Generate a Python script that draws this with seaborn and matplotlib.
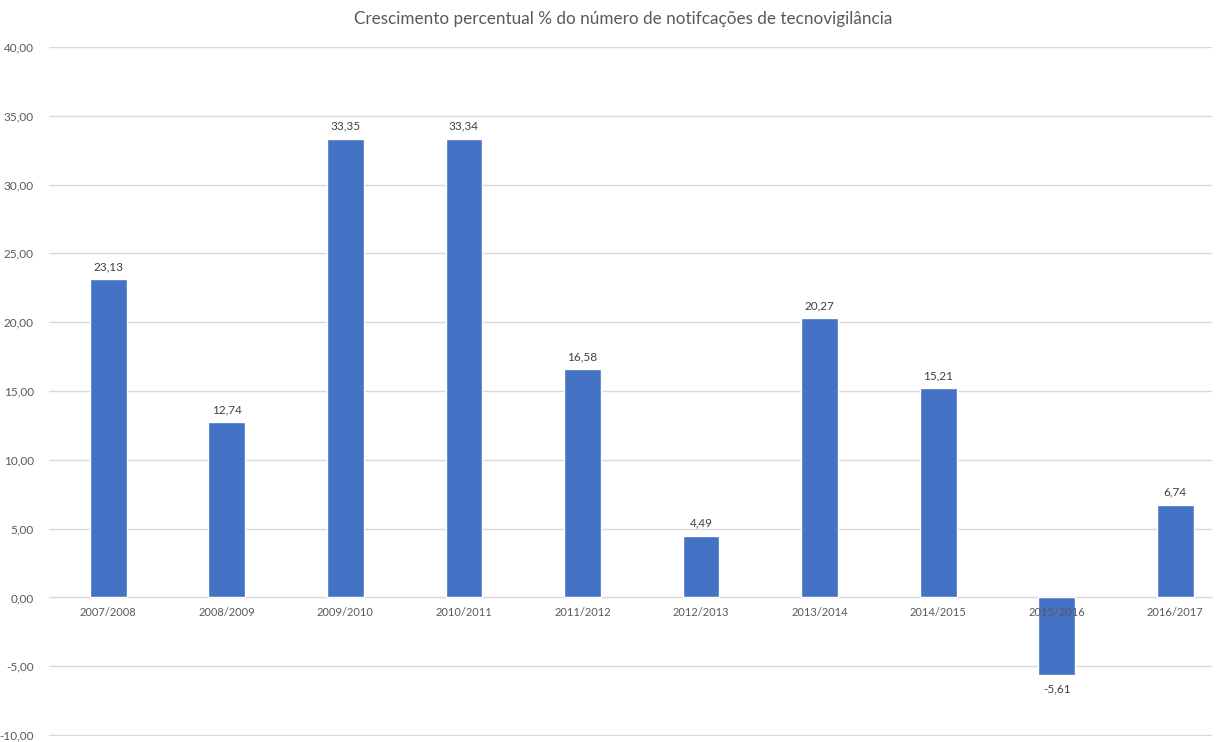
#!/bin/env -S python3

# Crescimento percentual das notificações de tecnovigilância

import pandas as pd
import matplotlib.pyplot as plt
import seaborn as sns
from matplotlib.ticker import FuncFormatter


PERIODS = [ "2007/2008", "2008/2009", "2009/2010", "2010/2011", "2011/2012",
            "2012/2013", "2013/2014", "2014/2015", "2015/2016", "2016/2017" ]
GROWTH = [ 23.13, 12.74, 33.35, 33.34, 16.58, 4.49, 20.27, 15.21, -5.61, 6.74 ]

TITLE = "Crescimento percentual % do número de notifcações de tecnovigilância"
BAR_COLOR = "#4472C4"
TEXT_COLOR = "#595959"


def br(v: float) -> str:
    return f"{v:.2f}".replace(".", ",")


def main() -> None:
    sns.set_style("white")
    plt.rcParams["font.family"] = ["Lato", "DejaVu Sans"]

    df = pd.DataFrame({ "period": PERIODS, "growth": GROWTH })

    fig = plt.figure(figsize=(12.17, 7.42), dpi=100)
    ax = fig.add_axes([49 / 1217, 6 / 742, 1163 / 1217, 689 / 742])

    sns.barplot(data=df, x="period", y="growth", color=BAR_COLOR, saturation=1,
                width=0.31, ax=ax, zorder=3)

    ax.set_ylim(-10.07, 40)
    ax.set_xlim(-0.5, 9.31)
    ax.set_yticks(range(-10, 41, 5))
    ax.yaxis.set_major_formatter(FuncFormatter(lambda v, _: br(v)))
    ax.grid(axis="y", color="#D9D9D9", linewidth=1)

    for side in [ "top", "right", "left" ]:
        ax.spines[side].set_visible(False)
    ax.spines["bottom"].set_position(("data", 0))
    ax.spines["bottom"].set_color("#D9D9D9")
    ax.spines["bottom"].set_zorder(2)

    ax.tick_params(axis="both", length=0, labelcolor=TEXT_COLOR)
    ax.tick_params(axis="x", pad=7, labelsize=8)
    ax.tick_params(axis="y", pad=11, labelsize=8.5)

    # grid under the bars, category labels over them
    ax.yaxis.set_zorder(0)
    ax.xaxis.set_zorder(5)

    for i, v in enumerate(GROWTH):
        off = 5 if v >= 0 else -6
        ax.annotate(br(v), (i, v), xytext=(0, off), textcoords="offset points",
                    ha="center", va="bottom" if v >= 0 else "top",
                    fontsize=8.5, color="#404040")

    ax.set_xlabel("")
    ax.set_ylabel("")
    fig.text(623 / 1217, 1 - 19 / 742, TITLE, ha="center", va="center",
             fontsize=12.3, color=TEXT_COLOR)

    fig.savefig("out.png", dpi=100)
    plt.close()


if __name__ == "__main__":
    main()
